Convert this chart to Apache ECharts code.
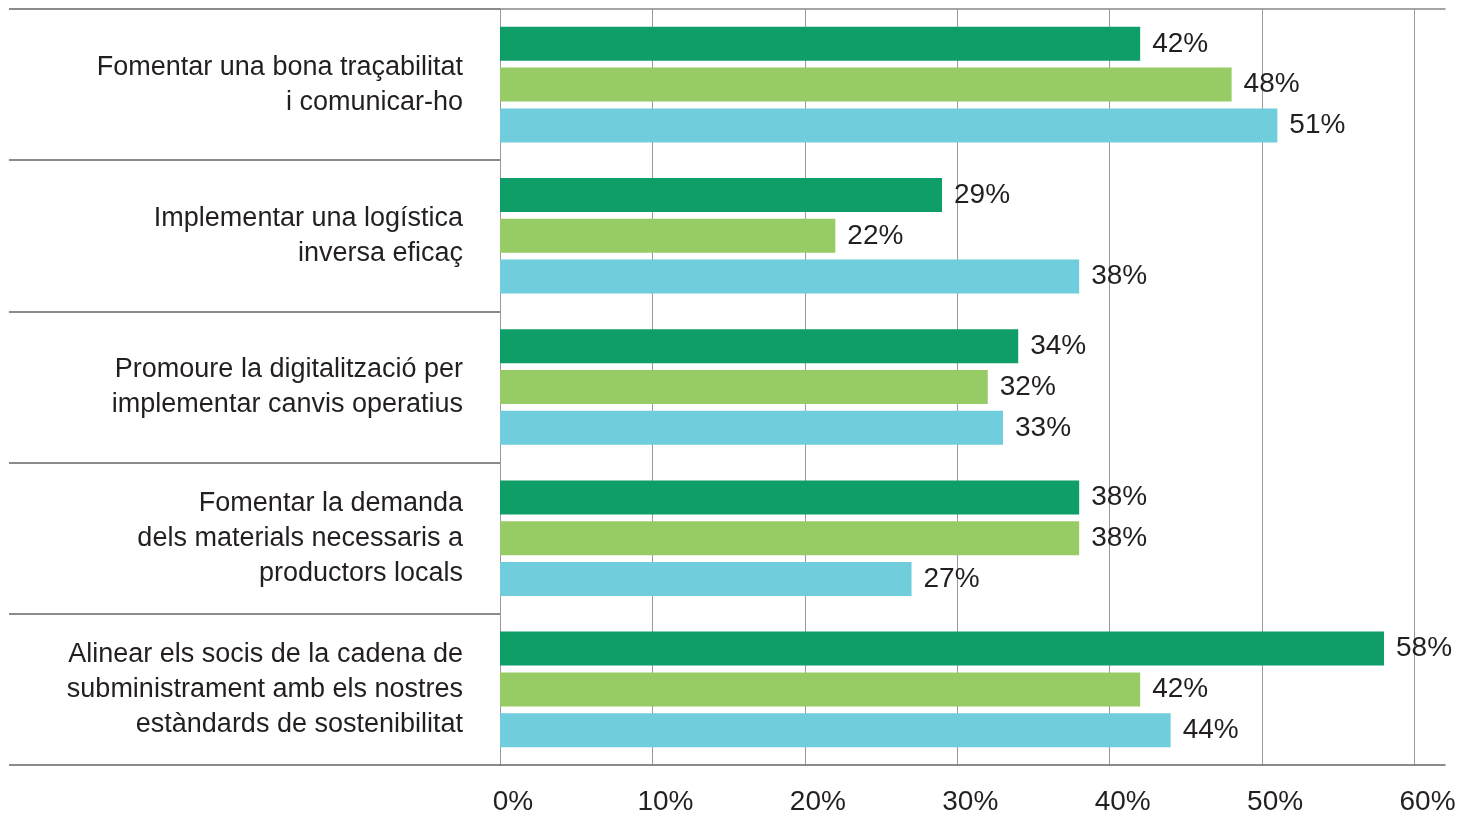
<!DOCTYPE html>
<html>
<head>
<meta charset="utf-8">
<script src="https://cdn.jsdelivr.net/npm/echarts@6/dist/echarts.min.js"></script>
<style>
  html, body { margin: 0; padding: 0; background: #fff; }
  #chart { width: 1473px; height: 816px; }
</style>
</head>
<body>
<div id="chart"></div>
<script>
// Actions, one per row (line breaks as set in the label)
const categories = [
  'Fomentar una bona traçabilitat\ni comunicar-ho',
  'Implementar una logística\ninversa eficaç',
  'Promoure la digitalització per\nimplementar canvis operatius',
  'Fomentar la demanda\ndels materials necessaris a\nproductors locals',
  'Alinear els socis de la cadena de\nsubministrament amb els nostres\nestàndards de sostenibilitat'
];

// Share of respondents (%) for each of the three groups
const seriesA = [42, 29, 34, 38, 58];
const seriesB = [48, 22, 32, 38, 42];
const seriesC = [51, 38, 33, 27, 44];

const seriesNames = ['Grup A', 'Grup B', 'Grup C'];
const seriesColors = ['#0f9e68', '#97cb65', '#6fcddc'];

// Axis ticks
const xMin = 0;
const xMax = 62;
const xInterval = 10;

const FONT = '"Liberation Sans", Arial, sans-serif';
const TEXT = '#231f20';

const chart = echarts.init(document.getElementById('chart'), null, { renderer: 'canvas' });

function barSeries(name, data, color) {
  return {
    name: name,
    type: 'bar',
    data: data,
    barWidth: 34,
    barGap: '20%',
    itemStyle: { color: color },
    label: {
      show: true,
      position: 'right',
      distance: 12,
      formatter: '{c}%',
      fontFamily: FONT,
      fontSize: 28,
      color: TEXT
    },
    silent: true,
    animation: false
  };
}

chart.setOption({
  backgroundColor: '#ffffff',
  animation: false,
  grid: { left: 500, right: 28, top: 9, bottom: 50, containLabel: false },
  xAxis: [
    {
      type: 'value',
      position: 'bottom',
      min: xMin,
      max: xMax,
      interval: xInterval,
      axisLine: { show: true, lineStyle: { color: '#666', width: 1.5 } },
      axisTick: { show: false },
      splitLine: { show: true, showMaxLine: false, lineStyle: { color: '#9a9a9a', width: 1 } },
      axisLabel: {
        formatter: '{value}%',
        showMaxLabel: false,
        margin: 23,
        padding: [0, 0, 0, 26],
        fontFamily: FONT,
        fontSize: 28,
        color: TEXT
      }
    },
    {
      type: 'value',
      position: 'top',
      min: xMin,
      max: xMax,
      interval: xInterval,
      axisLine: { show: true, lineStyle: { color: '#888', width: 1.5 } },
      axisTick: { show: false },
      splitLine: { show: false },
      axisLabel: { show: false }
    }
  ],
  yAxis: {
    type: 'category',
    inverse: true,
    data: categories,
    axisLine: { show: false },
    axisTick: {
      show: true,
      inside: false,
      length: 491,
      lineStyle: { color: '#666', width: 1.5 }
    },
    axisLabel: {
      margin: 37,
      align: 'right',
      fontFamily: FONT,
      fontSize: 27,
      lineHeight: 35,
      color: TEXT
    }
  },
  series: [
    barSeries(seriesNames[0], seriesA, seriesColors[0]),
    barSeries(seriesNames[1], seriesB, seriesColors[1]),
    barSeries(seriesNames[2], seriesC, seriesColors[2])
  ]
});
</script>
</body>
</html>
